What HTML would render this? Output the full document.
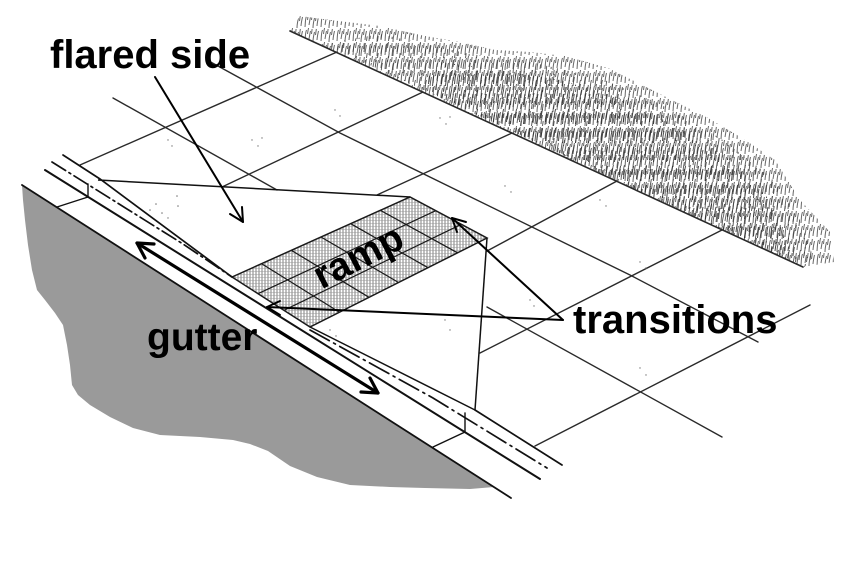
<!DOCTYPE html>
<html>
<head>
<meta charset="utf-8">
<style>
  html, body { margin: 0; padding: 0; background: #fff; }
  body { width: 850px; height: 580px; overflow: hidden; }
  svg { display: block; }
  .lbl { font-family: "Liberation Sans", Arial, sans-serif; font-weight: bold; fill: #000; }
</style>
</head>
<body>
<svg width="850" height="580" viewBox="0 0 850 580" xmlns="http://www.w3.org/2000/svg">
  <defs>
    <pattern id="hatch" width="3" height="3" patternUnits="userSpaceOnUse">
      <rect width="3" height="3" fill="#fff"/>
      <line x1="1" y1="0" x2="1" y2="3" stroke="#555" stroke-width="0.75"/>
      <line x1="0" y1="1.5" x2="3" y2="1.5" stroke="#999" stroke-width="0.5"/>
    </pattern>
    <pattern id="grassA" width="16" height="14" patternUnits="userSpaceOnUse">
      <path d="M1,13 C1.5,9 1,6 2.5,2 M5,11 C5.5,8 6,5 6.5,3 M9,14 C9,10 9.8,7 10.5,4 M13,12 C13.2,9 13.8,6 14.5,3 M3.5,6 C3.8,4 4,2 4.6,0 M11.5,7 C11.8,5 12,3 12.4,1 M7.5,6 l0.6,-5" stroke="#333" stroke-width="1" fill="none"/>
    </pattern>
    <pattern id="grassB" width="11" height="17" patternUnits="userSpaceOnUse" patternTransform="translate(5,7)">
      <path d="M2,15 C2.5,11 2.4,8 3.5,5 M7,11 C7.3,8 7.8,5 8.4,2 M9.5,17 l0.7,-5" stroke="#3a3a3a" stroke-width="0.95" fill="none"/>
    </pattern>
    <pattern id="grassC" width="13" height="19" patternUnits="userSpaceOnUse" patternTransform="translate(2,11)">
      <path d="M1.5,18 C2,14 2.2,10 3,7 M6,12 C6.3,9 6.8,6 7.6,3 M10.5,16 C10.8,12 11.2,9 12,6" stroke="#2a2a2a" stroke-width="1" fill="none"/>
    </pattern>
  </defs>

  <rect width="850" height="580" fill="#fff"/>

  <!-- gray ground -->
  <polygon fill="#9a9a9a" points="22,185 494,487 470,489 425,488 390,487 350,485 317,477 290,466 268,451 250,444 233,440 200,437 160,435 133,428 110,417 90,405 78,395 72,385 70,365 67,345 63,325 55,313 45,300 37,290 32,270 28,245 25,220 23,200"/>

  <!-- grass -->
  <path fill="url(#grassA)" opacity="0.75" d="M290,31 L300,16 330,20 380,26 425,36 460,42 495,50 530,52 565,56 608,68 658,93 708,118 742,138 775,160 800,200 830,232 834,262 803,267 Z"/>
  <path fill="url(#grassB)" opacity="0.85" d="M325,44 L380,34 425,44 470,54 530,62 600,78 660,104 720,138 770,176 800,220 815,262 803,267 Z"/>
  <path fill="url(#grassC)" opacity="0.85" d="M420,88 L440,62 500,70 560,80 620,98 680,128 730,160 770,200 790,250 780,257 Z"/>

  <!-- sidewalk grid -->
  <g stroke="#2a2a2a" stroke-width="1.4" fill="none" stroke-linecap="round">
    <line x1="290" y1="31" x2="803" y2="267" stroke-width="1.6"/>
    <line x1="80" y1="165" x2="337" y2="52"/>
    <line x1="113" y1="98" x2="277" y2="190"/>
    <line x1="487" y1="307" x2="722" y2="437"/>
    <polyline points="207,60 340,133 630,275 758,342"/>
    <line x1="222" y1="187" x2="423" y2="92"/>
    <line x1="377" y1="195" x2="512" y2="133"/>
    <line x1="487" y1="251" x2="617" y2="181"/>
    <line x1="480" y1="353" x2="722" y2="230"/>
    <line x1="535" y1="446" x2="810" y2="305"/>
  </g>

  <!-- stipple -->
  <g fill="#777">
    <circle cx="150" cy="210" r="0.8"/><circle cx="156" cy="204" r="0.8"/><circle cx="162" cy="213" r="0.8"/><circle cx="177" cy="196" r="0.8"/><circle cx="178" cy="206" r="0.8"/><circle cx="168" cy="218" r="0.7"/>
    <circle cx="252" cy="140" r="0.7"/><circle cx="258" cy="146" r="0.7"/><circle cx="262" cy="138" r="0.7"/>
    <circle cx="168" cy="140" r="0.7"/><circle cx="172" cy="146" r="0.7"/>
    <circle cx="335" cy="110" r="0.7"/><circle cx="340" cy="116" r="0.7"/>
    <circle cx="440" cy="118" r="0.7"/><circle cx="446" cy="124" r="0.7"/><circle cx="450" cy="117" r="0.7"/>
    <circle cx="505" cy="186" r="0.7"/><circle cx="511" cy="192" r="0.7"/>
    <circle cx="600" cy="200" r="0.7"/><circle cx="606" cy="206" r="0.7"/>
    <circle cx="640" cy="262" r="0.7"/><circle cx="646" cy="268" r="0.7"/>
    <circle cx="530" cy="300" r="0.7"/><circle cx="534" cy="306" r="0.7"/>
    <circle cx="640" cy="368" r="0.7"/><circle cx="646" cy="375" r="0.7"/>
    <circle cx="330" cy="330" r="0.7"/><circle cx="336" cy="336" r="0.7"/>
    <circle cx="445" cy="320" r="0.7"/><circle cx="450" cy="330" r="0.7"/>
  </g>

  <!-- ramp -->
  <polygon points="232,277 410,197 487,238 310,327" fill="url(#hatch)" stroke="#1a1a1a" stroke-width="1.5"/>
  <g stroke="#1a1a1a" stroke-width="1.2">
    <line x1="261.7" y1="263.7" x2="339.5" y2="312.2"/>
    <line x1="291.3" y1="250.3" x2="369" y2="297.3"/>
    <line x1="321" y1="237" x2="398.5" y2="282.5"/>
    <line x1="350.7" y1="223.7" x2="428" y2="267.7"/>
    <line x1="380.3" y1="210.3" x2="457.5" y2="252.8"/>
    <line x1="258" y1="293.7" x2="435.7" y2="210.7"/>
    <line x1="284" y1="310.3" x2="461.3" y2="224.3"/>
  </g>

  <!-- flare / transition edges -->
  <g stroke="#111" stroke-width="1.5" fill="none">
    <line x1="98" y1="180" x2="410" y2="197"/>
    <line x1="487" y1="238" x2="475" y2="410"/>
    <line x1="310" y1="327" x2="475" y2="410"/>
  </g>

  <!-- curb & gutter lines -->
  <g stroke="#111" fill="none" stroke-linecap="round">
    <polyline points="63,155 100,179 232,277" stroke-width="1.7"/>
    <polyline points="475,410 562,465" stroke-width="1.7"/>
    <polyline points="52,162 183,244 232,277" stroke-width="1.7" stroke-dasharray="16 4 2 4"/>
    <polyline points="310,330 433,398 547,468" stroke-width="1.7" stroke-dasharray="22 5 2 5"/>
    <line x1="45" y1="170" x2="540" y2="479" stroke-width="2"/>
    <line x1="22" y1="185" x2="511" y2="498" stroke-width="1.8"/>
    <!-- curb joints -->
    <line x1="57" y1="207" x2="88" y2="197" stroke-width="1.4"/>
    <line x1="88" y1="197" x2="88" y2="184" stroke-width="1.4"/>
    <line x1="433" y1="447" x2="465" y2="432" stroke-width="1.4"/>
    <line x1="465" y1="432" x2="465" y2="413" stroke-width="1.4"/>
  </g>

  <!-- arrows -->
  <g stroke="#000" fill="none" stroke-linecap="round" stroke-linejoin="round">
    <!-- flared side arrow -->
    <line x1="155" y1="77" x2="243" y2="222" stroke-width="2"/>
    <polyline points="242,207 243,222 230,214" stroke-width="2"/>
    <!-- gutter double arrow -->
    <line x1="137" y1="243" x2="378" y2="393" stroke-width="3.2"/>
    <polyline points="145,258 137,243 154,244" stroke-width="3.2"/>
    <polyline points="370,378 378,393 361,392" stroke-width="3.2"/>
    <!-- transitions arrows -->
    <line x1="563" y1="320" x2="452" y2="218" stroke-width="2"/>
    <polyline points="457,232 452,218 466,222" stroke-width="2"/>
    <line x1="563" y1="320" x2="267" y2="307" stroke-width="2"/>
    <polyline points="280,315 267,307 280,301" stroke-width="2"/>
  </g>

  <!-- labels -->
  <text class="lbl" x="50" y="68" font-size="40">flared side</text>
  <text class="lbl" x="147" y="350" font-size="39">gutter</text>
  <text class="lbl" x="573" y="333" font-size="40">transitions</text>
  <text class="lbl" x="364" y="268" font-size="39" text-anchor="middle" transform="rotate(-27 364 268)">ramp</text>
</svg>
</body>
</html>
